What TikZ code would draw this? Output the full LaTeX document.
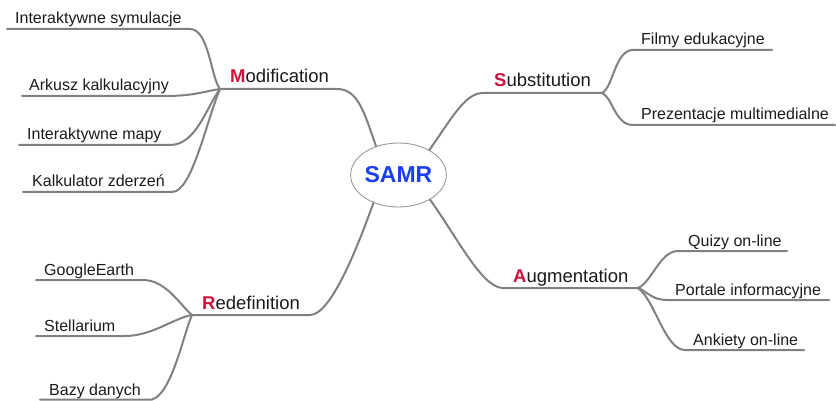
\documentclass[tikz,border=0pt]{standalone}
\usepackage{fontspec}
\setmainfont{Liberation Sans}
\usetikzlibrary{shapes.geometric}
\definecolor{linegray}{HTML}{808080}
\definecolor{ringgray}{HTML}{9A9A9A}
\definecolor{samrblue}{HTML}{1A3FF0}
\definecolor{letred}{HTML}{D0103C}
\definecolor{txt}{HTML}{1A1A1A}
\begin{document}
\begin{tikzpicture}[x=1pt,y=-1pt,
  branch/.style={draw=linegray,line width=2pt,line cap=round},
  leaf/.style={anchor=base west,inner sep=0pt,text=txt,font=\fontsize{16}{19}\selectfont},
  main/.style={anchor=base west,inner sep=0pt,text=txt,font=\fontsize{18.5}{22}\selectfont},
  centre/.style={ellipse,draw=ringgray,line width=0.9pt,fill=white,minimum width=91pt,minimum height=64pt,inner sep=0pt,text=samrblue,font=\fontsize{23}{27}\selectfont\bfseries}]
\useasboundingbox (0,0) rectangle (836,401);

% centre
\node[centre] (samr) at (398.5,175) {SAMR};

% ---------- Modification ----------
\coordinate (mhub) at (220,89);
\coordinate (mend) at (337,89);
\coordinate (m1a) at (7,29);   \coordinate (m1b) at (190,29);
\coordinate (m2a) at (22,96);  \coordinate (m2b) at (165,96);
\coordinate (m3a) at (19,145); \coordinate (m3b) at (170,145);
\coordinate (m4a) at (23,192); \coordinate (m4b) at (172,192);
\draw[branch] (samr.128) .. controls (364,112) and (358,89) .. (mend) -- (mhub);
\draw[branch] (m1a) -- (m1b) .. controls (209,29) and (211,78) .. (mhub);
\draw[branch] (m2a) -- (m2b) .. controls (195,96) and (205,91) .. (mhub);
\draw[branch] (m3a) -- (m3b) .. controls (196,145) and (206,108) .. (mhub);
\draw[branch] (m4a) -- (m4b) .. controls (192,192) and (206,122) .. (mhub);
\node[main] (mod) at (230,83) {\textcolor{letred}{\textbf{M}}odification};
\node[leaf] (m1) at (15,24) {Interaktywne symulacje};
\node[leaf] (m2) at (29,91) {Arkusz kalkulacyjny};
\node[leaf] (m3) at (27,140) {Interaktywne mapy};
\node[leaf] (m4) at (32,187) {Kalkulator zderzeń};

% ---------- Substitution ----------
\coordinate (sstart) at (483,93);
\coordinate (shub) at (602,93);
\coordinate (s1a) at (633,50);  \coordinate (s1b) at (772,50);
\coordinate (s2a) at (633,125); \coordinate (s2b) at (835,125);
\draw[branch] (samr.39) .. controls (452,118) and (465,93) .. (sstart) -- (shub);
\draw[branch] (shub) .. controls (613,88) and (615,50) .. (s1a) -- (s1b);
\draw[branch] (shub) .. controls (613,98) and (615,125) .. (s2a) -- (s2b);
\node[main] (sub) at (494,87) {\textcolor{letred}{\textbf{S}}ubstitution};
\node[leaf] (s1) at (641,45) {Filmy edukacyjne};
\node[leaf] (s2) at (641,120) {Prezentacje multimedialne};

% ---------- Augmentation ----------
\coordinate (astart) at (503,288);
\coordinate (ahub) at (638,288);
\coordinate (a1a) at (678,251); \coordinate (a1b) at (787,251);
\coordinate (a2a) at (667,300); \coordinate (a2b) at (829,300);
\coordinate (a3a) at (685,350); \coordinate (a3b) at (804,350);
\draw[branch] (samr.-38) .. controls (457,237) and (482,288) .. (astart) -- (ahub);
\draw[branch] (ahub) .. controls (652,282) and (660,251) .. (a1a) -- (a1b);
\draw[branch] (ahub) .. controls (648,292) and (652,300) .. (a2a) -- (a2b);
\draw[branch] (ahub) .. controls (655,300) and (665,350) .. (a3a) -- (a3b);
\node[main] (aug) at (513,282) {\textcolor{letred}{\textbf{A}}ugmentation};
\node[leaf] (a1) at (688,246) {Quizy on-line};
\node[leaf] (a2) at (675,295) {Portale informacyjne};
\node[leaf] (a3) at (693,345) {Ankiety on-line};

% ---------- Redefinition ----------
\coordinate (rstart) at (310,315);
\coordinate (rhub) at (192,315);
\coordinate (r1a) at (36,280);  \coordinate (r1b) at (143,280);
\coordinate (r2a) at (36,336);  \coordinate (r2b) at (125,336);
\coordinate (r3a) at (40,399.5);\coordinate (r3b) at (152,399.5);
\draw[branch] (samr.-132) .. controls (360,240) and (332,315) .. (rstart) -- (rhub);
\draw[branch] (r1a) -- (r1b) .. controls (166,280) and (180,305) .. (rhub);
\draw[branch] (r2a) -- (r2b) .. controls (152,336) and (174,318) .. (rhub);
\draw[branch] (r3a) -- (r3b) .. controls (172,394) and (184,332) .. (rhub);
\node[main] (red) at (202,309) {\textcolor{letred}{\textbf{R}}edefinition};
\node[leaf] (r1) at (44,275) {GoogleEarth};
\node[leaf] (r2) at (44,331) {Stellarium};
\node[leaf] (r3) at (49,395) {Bazy danych};
\end{tikzpicture}
\end{document}
